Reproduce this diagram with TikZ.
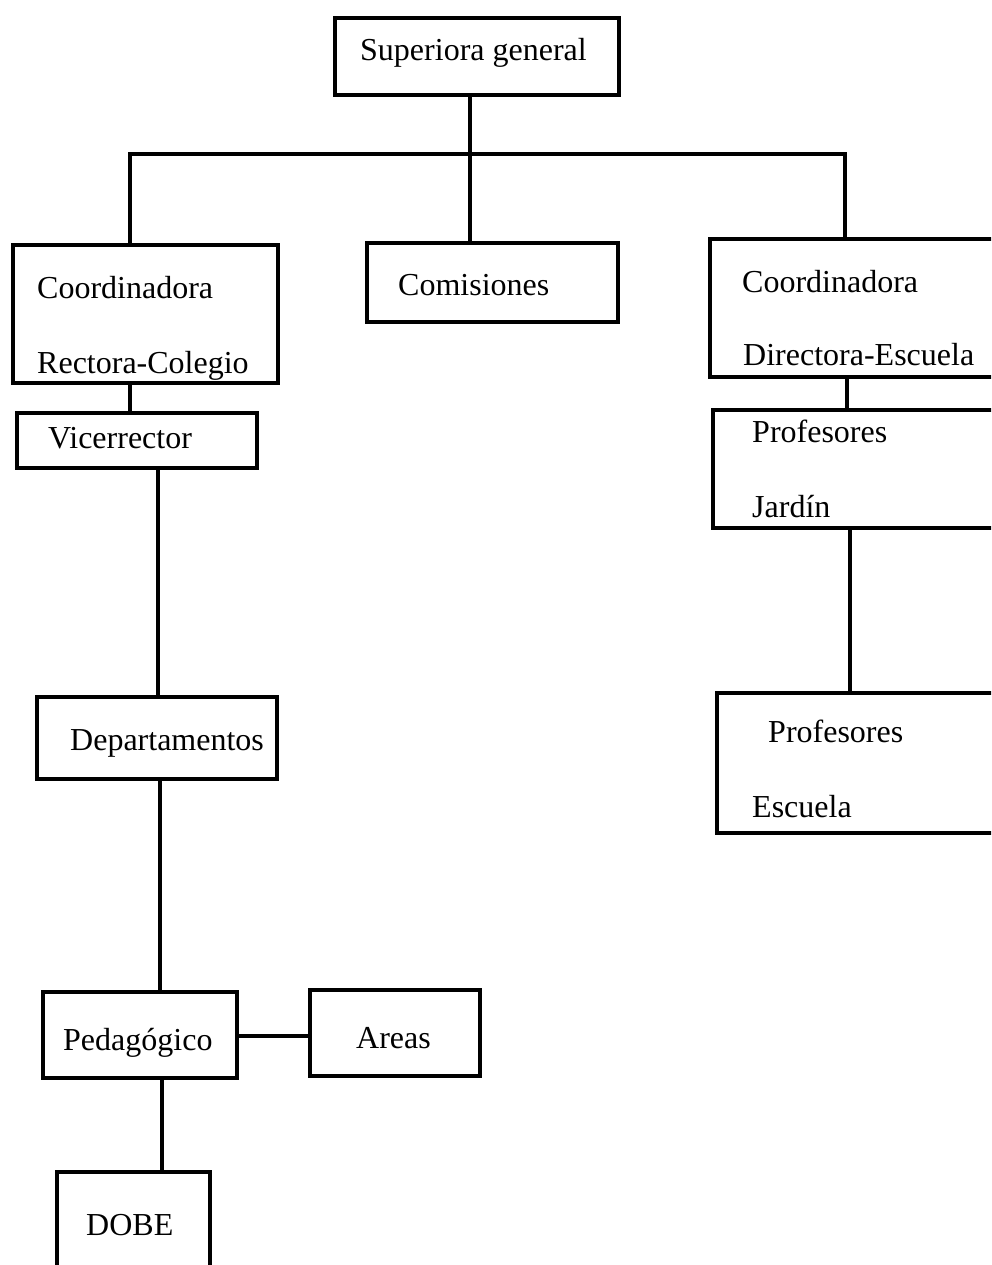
\documentclass[tikz,border=0pt]{standalone}
\usepackage{fontspec}
\setmainfont{Liberation Serif}
\begin{document}
\begin{tikzpicture}[x=1pt,y=-1pt,
  box/.style={draw, line width=3.2pt, rectangle, inner sep=0pt},
  txt/.style={anchor=base west, inner sep=0pt, font=\fontsize{32}{38}\selectfont},
  conn/.style={line width=3.2pt}]
\useasboundingbox (0,0) rectangle (991,1265);
\clip (0,0) rectangle (991,1265);
% boxes
\node[box, minimum width=284pt, minimum height=77pt] (sup) at (477,56.5) {};
\node[box, minimum width=265pt, minimum height=138pt] (rect) at (145.5,314) {};
\node[box, minimum width=251pt, minimum height=79pt] (com) at (492.5,282.5) {};
\node[box, minimum width=300pt, minimum height=138pt] (dir) at (860,308) {};
\node[box, minimum width=240pt, minimum height=55pt] (vic) at (137,440.5) {};
\node[box, minimum width=297pt, minimum height=118pt] (jar) at (861.5,469) {};
\node[box, minimum width=293pt, minimum height=140pt] (esc) at (863.5,763) {};
\node[box, minimum width=240pt, minimum height=82pt] (dep) at (157,738) {};
\node[box, minimum width=194pt, minimum height=86pt] (ped) at (140,1035) {};
\node[box, minimum width=170pt, minimum height=86pt] (are) at (395,1033) {};
\node[box, minimum width=153pt, minimum height=118pt] (dobe) at (133.5,1231) {};
% texts
\node[txt] (tsup) at (360,61) {Superiora general};
\node[txt] (trc1) at (37,298) {Coordinadora};
\node[txt] (trc2) at (37,373) {Rectora-Colegio};
\node[txt] (tcom) at (398,295) {Comisiones};
\node[txt] (tdi1) at (742,292) {Coordinadora};
\node[txt] (tdi2) at (743,365) {Directora-Escuela};
\node[txt] (tvic) at (48,448) {Vicerrector};
\node[txt] (tja1) at (752,442) {Profesores};
\node[txt] (tja2) at (752,517) {Jard\'in};
\node[txt] (tdep) at (70,750) {Departamentos};
\node[txt] (tes1) at (768,742) {Profesores};
\node[txt] (tes2) at (752,817) {Escuela};
\node[txt] (tped) at (63,1050) {Pedag\'ogico};
\node[txt] (tare) at (356,1048) {Areas};
\node[txt] (tdob) at (86,1235) {DOBE};
% connector coordinates
\coordinate (busL) at (130,154);
\coordinate (busM) at (470,154);
\coordinate (busR) at (845,154);
\coordinate (c1) at (130,0);
\coordinate (c2) at (158,0);
\coordinate (c3) at (160,0);
\coordinate (c4) at (0,1036);
\coordinate (c5) at (162,0);
\coordinate (c6) at (847,0);
\coordinate (c7) at (850,0);
% connectors
\draw[conn] (rect.north -| busL) -- (busL) -- (busR) -- (dir.north -| busR);
\draw[conn] (sup.south -| busM) -- (com.north -| busM);
\draw[conn] (rect.south -| c1) -- (vic.north -| c1);
\draw[conn] (vic.south -| c2) -- (dep.north -| c2);
\draw[conn] (dep.south -| c3) -- (ped.north -| c3);
\draw[conn] (ped.east |- c4) -- (are.west |- c4);
\draw[conn] (ped.south -| c5) -- (dobe.north -| c5);
\draw[conn] (dir.south -| c6) -- (jar.north -| c6);
\draw[conn] (jar.south -| c7) -- (esc.north -| c7);
\end{tikzpicture}
\end{document}
